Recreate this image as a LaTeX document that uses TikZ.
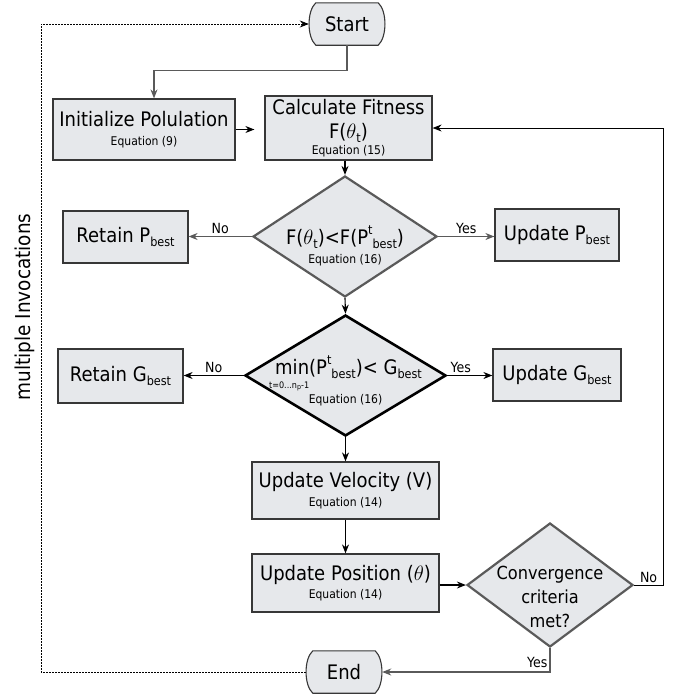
\documentclass[tikz,border=0pt]{standalone}
\usepackage{fontspec}
\setmainfont{DejaVu Sans}[FakeStretch=0.9]
\usetikzlibrary{shapes.geometric,arrows.meta,backgrounds}

\definecolor{boxfill}{RGB}{230,232,235}
\definecolor{edgegray}{RGB}{55,55,55}
\definecolor{diagray}{RGB}{90,90,90}

\newcommand{\mainsize}{\fontsize{20}{22}\selectfont}
\newcommand{\eqsize}{\fontsize{12}{14}\selectfont}
\newcommand{\lowtxt}[1]{\raisebox{-0.35ex}{\fontsize{12.5}{12}\selectfont #1}}
\newcommand{\hightxt}[1]{\raisebox{0.9ex}{\fontsize{12.5}{12}\selectfont #1}}
\newcommand{\minsub}{\begin{tabular}[t]{@{}r@{}}min\\[-8pt]{\fontsize{9}{9}\selectfont t=0...n\raisebox{-0.3ex}{\fontsize{7}{7}\selectfont p}-1}\end{tabular}}

\tikzset{
  box/.style={draw=edgegray, line width=1.2pt, fill=boxfill, inner sep=0pt, font=\mainsize, align=center},
  dec/.style={diamond, draw=diagray, line width=2.2pt, fill=boxfill, inner sep=0pt},
  term/.style={draw=edgegray, line width=1.1pt, fill=boxfill},
  termbox/.style={minimum width=62pt, minimum height=42pt, inner sep=0pt, font=\mainsize},
  link/.style={-{Stealth[length=9pt,width=7pt]}, line width=1.1pt},
  glink/.style={link, draw=diagray},
  lab/.style={font=\fontsize{14}{16}\selectfont, inner sep=2pt},
}

\begin{document}
\begin{tikzpicture}[x=1pt,y=1pt]
\useasboundingbox (0,0) rectangle (675,-696);

% terminals
\node[termbox] (start) at (347,-24) {Start};
\node[termbox] (end) at (344,-672) {End};
\begin{scope}[on background layer]
\foreach \t in {start,end}
  \draw[term] (\t.north west) -- (\t.north east)
    .. controls ([xshift=9pt,yshift=-8pt]\t.north east) and ([xshift=9pt,yshift=8pt]\t.south east) .. (\t.south east)
    -- (\t.south west)
    .. controls ([xshift=-9pt,yshift=8pt]\t.south west) and ([xshift=-9pt,yshift=-8pt]\t.north west) .. (\t.north west) -- cycle;
\end{scope}

% process boxes
\node[box, minimum width=182pt, minimum height=61pt] (init) at (144,-129.5) {Initialize Polulation\\[-3.5pt]{\eqsize Equation (9)}};
\node[box, minimum width=167pt, minimum height=64pt] (fit) at (348.5,-128) {Calculate Fitness\\[2pt]F($\theta$\lowtxt{t})\\[-6pt]{\eqsize Equation (15)}};
\node[box, minimum width=125pt, minimum height=52pt] (keepP) at (125.5,-237) {Retain P\lowtxt{best}};
\node[box, minimum width=124pt, minimum height=52pt] (newP) at (557,-235) {Update P\lowtxt{best}};
\node[box, minimum width=125pt, minimum height=54pt] (keepG) at (120.5,-376) {Retain G\lowtxt{best}};
\node[box, minimum width=128pt, minimum height=52pt] (newG) at (557,-375) {Update G\lowtxt{best}};
\node[box, minimum width=187pt, minimum height=57pt] (vel) at (345.5,-490.5) {Update Velocity (V)\\[-3.5pt]{\eqsize Equation (14)}};
\node[box, minimum width=187pt, minimum height=58pt] (pos) at (345.5,-583) {Update Position ($\theta$)\\[-3.5pt]{\eqsize Equation (14)}};

% decisions
\node[dec, minimum width=184pt, minimum height=121pt] (cmpP) at (345,-236.5) {};
\node[font=\mainsize, align=center, inner sep=0pt] (cmpPtxt) at (345,-246) {F($\theta$\lowtxt{t})<F(P\hightxt{t}\lowtxt{best})\\[-3.5pt]{\eqsize Equation (16)}};
\node[dec, draw=black, line width=2.6pt, minimum width=201pt, minimum height=121pt] (cmpG) at (345.5,-375.5) {};
\node[font=\mainsize, align=center, inner sep=0pt] (cmpGtxt) at (345.5,-381) {\minsub(P\hightxt{t}\lowtxt{best})< G\lowtxt{best}\\[-1pt]{\eqsize Equation (16)}};
\node[dec, minimum width=166pt, minimum height=124pt] (conv) at (550,-585) {};
\node[font=\fontsize{18}{24}\selectfont, align=center, inner sep=0pt] (convtxt) at (550,-597) {Convergence\\criteria\\met?};

\node[rotate=90, font=\fontsize{20.5}{22}\selectfont] (multi) at (25,-307) {multiple Invocations};

% connectors
\draw[glink] (start.south) -- ++(0,-25) -| ([xshift=10pt]init.north);
\draw[link, shorten >=10pt] (init.east) -- (init.east -| fit.west);
\draw[link] (cmpP.north |- fit.south) -- (cmpP.north);
\draw[glink] (cmpP.west) -- node[lab, above] {No} (cmpP.west -| keepP.east);
\draw[glink] (cmpP.east) -- node[lab, above] {Yes} (cmpP.east -| newP.west);
\draw[link] (cmpP.south) -- (cmpG.north);
\draw[link] (cmpG.west) -- node[lab, above] {No} (cmpG.west -| keepG.east);
\draw[link] (cmpG.east) -- node[lab, above, pos=0.3] {Yes} (cmpG.east -| newG.west);
\draw[link] (cmpG.south) -- (cmpG.south |- vel.north);
\draw[link] (vel) -- (pos);
\draw[link] (pos.east |- conv.west) -- (conv.west);
\draw[link, line width=0.9pt] (conv.east) -- node[lab, above] {No} ++(29,0) |- (fit.east);
\draw[glink] (conv.south) |- node[lab, left, pos=0.3] {Yes} ([xshift=7pt]end.east);
\coordinate (loop) at (41,-24);
\draw[link, line width=0.8pt, dash pattern=on 1.5pt off 1.5pt] ([xshift=-7pt]end.west) -| (loop) -- ([xshift=-7pt]start.west);
\end{tikzpicture}
\end{document}
